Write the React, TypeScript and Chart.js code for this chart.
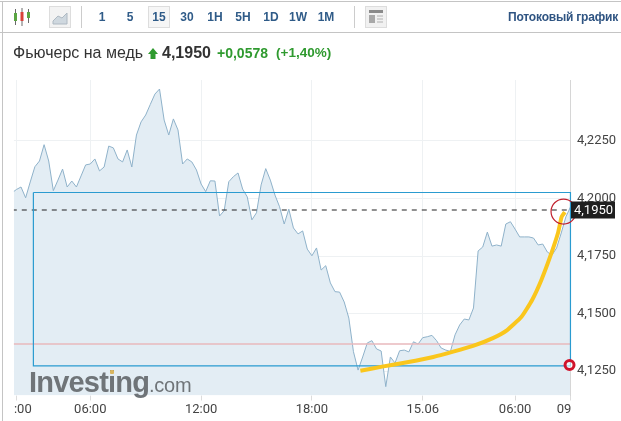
import React, { useEffect, useRef } from "react";
import { Chart, registerables } from "chart.js";

Chart.register(...registerables);

const closes = [
  4.2024, 4.2039, 4.205, 4.2003, 4.2072, 4.2138, 4.2163, 4.2234, 4.2163, 4.2034, 4.208,
  4.2128, 4.205, 4.2076, 4.205, 4.2098, 4.2146, 4.215, 4.2172, 4.212, 4.2137, 4.2228,
  4.222, 4.2172, 4.2159, 4.2211, 4.2137, 4.2276, 4.2333, 4.2363, 4.2409, 4.2454, 4.2476,
  4.2341, 4.2276, 4.2346, 4.2298, 4.215, 4.2172, 4.2159, 4.2124, 4.2063, 4.203, 4.2077,
  4.2076, 4.1924, 4.1947, 4.2073, 4.2095, 4.2111, 4.2041, 4.2007, 4.1907, 4.1938, 4.2059,
  4.213, 4.208, 4.2015, 4.1964, 4.1889, 4.1954, 4.1872, 4.1846, 4.1859, 4.178, 4.1751,
  4.1785, 4.1689, 4.1708, 4.1633, 4.1595, 4.1593, 4.155, 4.148, 4.1334, 4.1254, 4.1311,
  4.1372, 4.1382, 4.1346, 4.1337, 4.1182, 4.1311, 4.1285, 4.1338, 4.1341, 4.1333, 4.1377,
  4.1367, 4.1395, 4.1399, 4.1405, 4.1382, 4.135, 4.1341, 4.1335, 4.1407, 4.145, 4.1476,
  4.1472, 4.1524, 4.1772, 4.1789, 4.1854, 4.1793, 4.1798, 4.1793, 4.1889, 4.1899, 4.1867,
  4.1833, 4.1833, 4.1833, 4.1828, 4.1798, 4.1802, 4.1767, 4.1754, 4.1785, 4.185, 4.192,
  4.1963,
];
const firstBar = -1;

const xTickBars = [0, 16, 40, 64, 88, 108, 120];
const xTickLabels = ["    :00", "06:00", "12:00", "18:00", "15.06", "06:00", "09    "];
const yTicks = [4.125, 4.15, 4.175, 4.2, 4.225];

const lastPrice = 4.195;
const redLevel = 4.1367;
const rectLeft = 3.68;
const rectRight = 120;
const rectTop = 4.2026;
const rectBottom = 4.1272;

const curveBars = [74.5, 79.2, 84.6, 90.3, 94.6, 98.9, 103.2, 106.3, 109.4, 111.7, 113.7, 115.6, 117.3, 118.1, 118.8];
const curveValues = [4.1251, 4.1269, 4.1288, 4.1311, 4.1334, 4.1359, 4.1393, 4.1428, 4.1486, 4.1559, 4.1646, 4.1747, 4.185, 4.1921, 4.1941];

const bigCircle = { x: 118.5, y: 4.1943 };
const smallCircle = { x: 119.8, y: 4.1276 };

const intervals = ["1", "5", "15", "30", "1H", "5H", "1D", "1W", "1M"];
const intervalCenters = [102, 130, 159, 187, 215, 243, 271, 298, 326];

const comma = (v: number) => v.toFixed(4).replace(".", ",");

const priceTag = {
  id: "priceTag",
  afterDraw(chart: any) {
    const { ctx, scales } = chart;
    const y = scales.y.getPixelForValue(lastPrice);
    ctx.save();
    ctx.fillStyle = "#1f1f1f";
    ctx.fillRect(571, y - 8.5, 44, 17);
    ctx.fillStyle = "#ffffff";
    ctx.font = "13px Roboto";
    ctx.textAlign = "left";
    ctx.textBaseline = "middle";
    ctx.fillText(comma(lastPrice), 574, y + 0.5);
    ctx.restore();
  },
};

const abs = (x: number, y: number, w?: number, h?: number): React.CSSProperties => ({
  position: "absolute",
  left: x,
  top: y,
  width: w,
  height: h,
});

export default function App() {
  const ref = useRef<HTMLCanvasElement>(null);
  useEffect(() => {
    const chart = new Chart(ref.current!, {
      type: "line",
      data: {
        datasets: [
          {
            data: closes.map((y, i) => ({ x: firstBar + i, y })),
            borderColor: "#8fb2ca",
            borderWidth: 1,
            backgroundColor: "#e3edf4",
            fill: "start",
            pointRadius: 0,
            tension: 0,
            order: 6,
          },
          {
            data: [{ x: -1, y: redLevel }, { x: rectRight, y: redLevel }],
            borderColor: "#e9b9bd",
            borderWidth: 1.5,
            pointRadius: 0,
            order: 5,
          },
          {
            data: [{ x: -1, y: lastPrice }, { x: rectRight, y: lastPrice }],
            borderColor: "#222222",
            borderWidth: 1,
            borderDash: [5, 5],
            pointRadius: 0,
            order: 4,
          },
          {
            data: [
              { x: rectLeft, y: rectTop },
              { x: rectRight, y: rectTop },
              { x: rectRight, y: rectBottom },
              { x: rectLeft, y: rectBottom },
              { x: rectLeft, y: rectTop },
            ],
            borderColor: "#2a9bd0",
            borderWidth: 1.2,
            pointRadius: 0,
            clip: false,
            order: 3,
          },
          {
            data: curveBars.map((x, i) => ({ x, y: curveValues[i] })),
            borderColor: "#fac61c",
            borderWidth: 4,
            pointRadius: 0,
            tension: 0.15,
            order: 2,
          },
          {
            data: [bigCircle],
            showLine: false,
            pointRadius: 12.5,
            pointBorderWidth: 1.2,
            pointBorderColor: "#c01f2c",
            pointBackgroundColor: "rgba(0,0,0,0)",
            clip: false,
            order: 1,
          },
          {
            data: [smallCircle],
            showLine: false,
            pointRadius: 4.5,
            pointBorderWidth: 3,
            pointBorderColor: "#d0142c",
            pointBackgroundColor: "rgba(255,255,255,0.6)",
            clip: false,
            order: 0,
          },
        ],
      },
      options: {
        responsive: false,
        animation: false,
        events: [],
        layout: { padding: { left: 13, top: 80, right: 0, bottom: 0 } },
        plugins: { legend: { display: false }, tooltip: { enabled: false } },
        scales: {
          x: {
            type: "linear",
            min: -0.54,
            max: 119.9,
            afterBuildTicks: (s: any) => {
              s.ticks = xTickBars.map((value) => ({ value }));
            },
            afterFit: (s: any) => {
              s.height = 25.5;
            },
            grid: { color: "#eef1f3", tickColor: "#dcdcdc", tickLength: 5, drawOnChartArea: true },
            border: { display: false },
            ticks: {
              autoSkip: false,
              maxRotation: 0,
              padding: 1,
              color: "#444444",
              font: { family: "Roboto", size: 13 },
              callback: (_v: any, i: number) => xTickLabels[i],
            },
          },
          y: {
            position: "right",
            min: 4.11435,
            max: 4.25152,
            afterBuildTicks: (s: any) => {
              s.ticks = yTicks.map((value) => ({ value }));
            },
            afterFit: (s: any) => {
              s.width = 51;
            },
            grid: { color: "#eef1f3", drawTicks: false },
            border: { display: true, color: "#d6d6d6" },
            ticks: {
              padding: 7,
              color: "#444444",
              font: { family: "Roboto", size: 13 },
              callback: (v: any) => comma(Number(v)),
            },
          },
        },
      },
      plugins: [priceTag],
    } as any);
    return () => chart.destroy();
  }, []);

  const sans = '"Liberation Sans", Arial, sans-serif';
  return (
    <div style={{ ...abs(0, 0, 621, 421), overflow: "hidden", background: "#fff", fontFamily: sans }}>
      <canvas ref={ref} width={621} height={421} style={{ ...abs(0, 0), display: "block" }} />
      <div style={{ ...abs(0, 1, 621, 1), background: "#c4c4c4" }} />
      <div style={{ ...abs(0, 32, 621, 1), background: "#c4c4c4" }} />
      <div style={{ ...abs(2, 1, 1, 420), background: "#c4c4c4" }} />

      <svg style={abs(13, 7)} width={20} height={20}>
        <path d="M2.5 2v16M9 1v18M15.5 2v14" stroke="#6a6a6a" strokeWidth={1} />
        <rect x={1} y={6} width={3} height={8} fill="#5aa542" />
        <rect x={7.5} y={5} width={3} height={9} fill="#d8423a" />
        <rect x={14} y={5} width={3} height={6} fill="#5aa542" />
      </svg>
      <div style={{ ...abs(49, 6, 22, 22), boxSizing: "border-box", background: "#f3f3f3", border: "1px solid #dddddd" }} />
      <svg style={abs(49, 6)} width={22} height={22}>
        <path d="M4 15L9 10L13 12L18 7V18H4Z" fill="#cfd8df" stroke="#aeb9c2" strokeWidth={1} />
      </svg>
      <div style={{ ...abs(81, 6, 1, 22), background: "#cccccc" }} />
      <div style={{ ...abs(148, 6, 22, 22), boxSizing: "border-box", background: "#f6f6f6", border: "1px solid #dddddd" }} />
      {intervals.map((t, i) => (
        <div
          key={i}
          style={{
            ...abs(intervalCenters[i] - 15, 9, 30, 16),
            textAlign: "center",
            font: `bold 12px/16px ${sans}`,
            color: "#2f5b88",
          }}
        >
          {t}
        </div>
      ))}
      <div style={{ ...abs(354, 6, 1, 22), background: "#cccccc" }} />
      <div style={{ ...abs(365, 6, 22, 22), boxSizing: "border-box", background: "#f1f1f1", border: "1px solid #dddddd" }} />
      <svg style={abs(365, 6)} width={22} height={22}>
        <rect x={4} y={4} width={14} height={3} fill="#8a8a8a" />
        <rect x={4} y={9} width={6} height={8} fill="#a8a8a8" />
        <path d="M12 10h6M12 13h6M12 16h6" stroke="#b0b0b0" strokeWidth={1} />
      </svg>
      <div style={{ ...abs(468, 9, 150, 16), textAlign: "right", font: `bold 12px/16px ${sans}`, letterSpacing: -0.2, color: "#2f5482", whiteSpace: "nowrap" }}>
        Потоковый график
      </div>

      <div style={{ ...abs(13, 43, 135, 20), font: `16px/20px ${sans}`, color: "#333", whiteSpace: "nowrap" }}>
        Фьючерс на медь
      </div>
      <svg style={abs(148, 48)} width={10} height={11}>
        <path d="M5 0L10 6H7.5V11H2.5V6H0Z" fill="#2f9a2f" />
      </svg>
      <div style={{ ...abs(162, 42, 60, 22), font: `bold 16px/22px ${sans}`, color: "#333", whiteSpace: "nowrap" }}>
        4,1950
      </div>
      <div style={{ ...abs(217, 43, 60, 20), font: `bold 14px/20px ${sans}`, color: "#2f9a2f", whiteSpace: "nowrap" }}>
        +0,0578
      </div>
      <div style={{ ...abs(276, 43, 70, 20), font: `bold 13.5px/20px ${sans}`, color: "#2f9a2f", whiteSpace: "nowrap" }}>
        (+1,40%)
      </div>

      <div style={{ ...abs(29, 365, 170, 34), whiteSpace: "nowrap", lineHeight: "34px", color: "#6f7478" }}>
        <span style={{ font: `bold 29px/34px ${sans}`, letterSpacing: -0.8 }}>Investing</span>
        <span style={{ font: `20px/34px ${sans}`, letterSpacing: -0.3 }}>.com</span>
      </div>
      <div style={{ ...abs(110, 370, 4, 4), background: "#d9b660", borderRadius: 1 }} />
    </div>
  );
}
